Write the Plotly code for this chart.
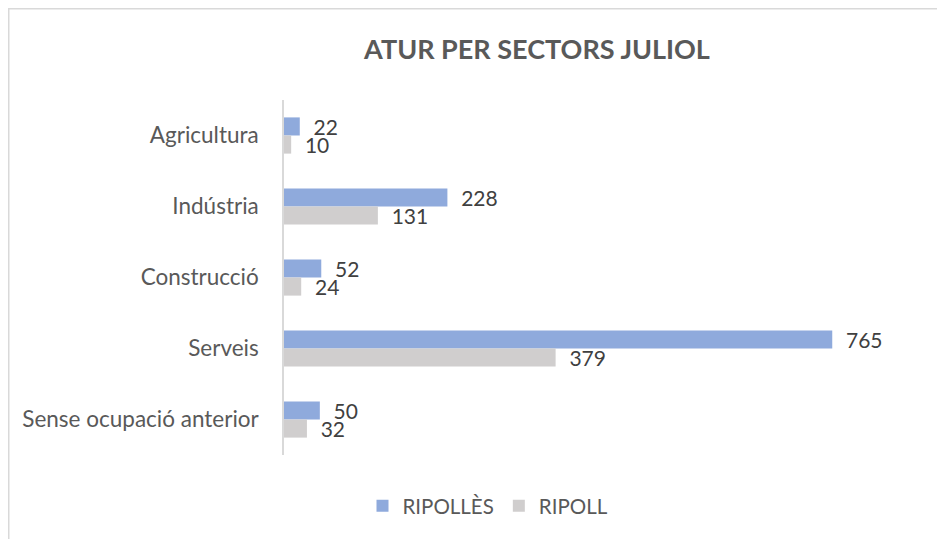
import plotly.graph_objects as go

categories = ["Agricultura", "Indústria", "Construcció", "Serveis", "Sense ocupació anterior"]
ripolles = [22, 228, 52, 765, 50]
ripoll = [10, 131, 24, 379, 32]
series_names = ["RIPOLLÈS", "RIPOLL"]
title_text = "ATUR PER SECTORS JULIOL"

FONT = "Lato, Calibri, Carlito, sans-serif"
OFF = 8  # page body margin
W, H = 945, 539
L, R, T, B = 284 - OFF, 929 - OFF, 100 - OFF, 455 - OFF

fig = go.Figure()
for name, vals, col in [(series_names[0], ripolles, "#8faadc"), (series_names[1], ripoll, "#d0cece")]:
    fig.add_trace(go.Bar(
        y=categories, x=vals, orientation="h", name=name,
        marker=dict(color=col, line=dict(width=0)),
        text=["\u00a0\u00a0" + str(v) for v in vals], textposition="outside",
        constraintext="none",
        textfont=dict(family=FONT, size=21, color="#404040"), cliponaxis=False,
    ))

pw, ph = R - L, B - T
fig.update_layout(
    width=W, height=H,
    margin=dict(l=L, r=W - R, t=T, b=H - B, autoexpand=False),
    paper_bgcolor="white", plot_bgcolor="white",
    barmode="group", bargap=0.49, bargroupgap=0,
    font=dict(family=FONT, color="#595959"),
    title=dict(text="<b>" + title_text + "</b>", x=(537 - OFF) / W, xanchor="center",
               y=1 - (50 - OFF) / H, yanchor="middle",
               font=dict(family=FONT, size=27, color="#595959")),
    xaxis=dict(range=[0, 900], showgrid=False, zeroline=False, showticklabels=False,
               showline=False, ticks=""),
    yaxis=dict(autorange="reversed", showgrid=False, zeroline=False,
               showline=True, linecolor="#d9d9d9", linewidth=1.5,
               ticks="", ticklabelstandoff=19,
               tickfont=dict(family=FONT, size=22.5, color="#595959")),
    legend=dict(orientation="h", x=(488 - 284) / pw, xanchor="center",
                y=(455 - 506) / ph, yanchor="middle",
                font=dict(family=FONT, size=20.5, color="#595959"),
                traceorder="normal", itemwidth=30),
    showlegend=True,
    shapes=[dict(type="rect", xref="paper", yref="paper",
                 x0=(0.75 - L) / pw, x1=(W + 20 - L) / pw,
                 y0=(B - H - 20) / ph, y1=(B - 0.75) / ph,
                 line=dict(color="#d9d9d9", width=1.5), fillcolor="rgba(0,0,0,0)",
                 layer="below")],
)

fig.write_html("out.html")
